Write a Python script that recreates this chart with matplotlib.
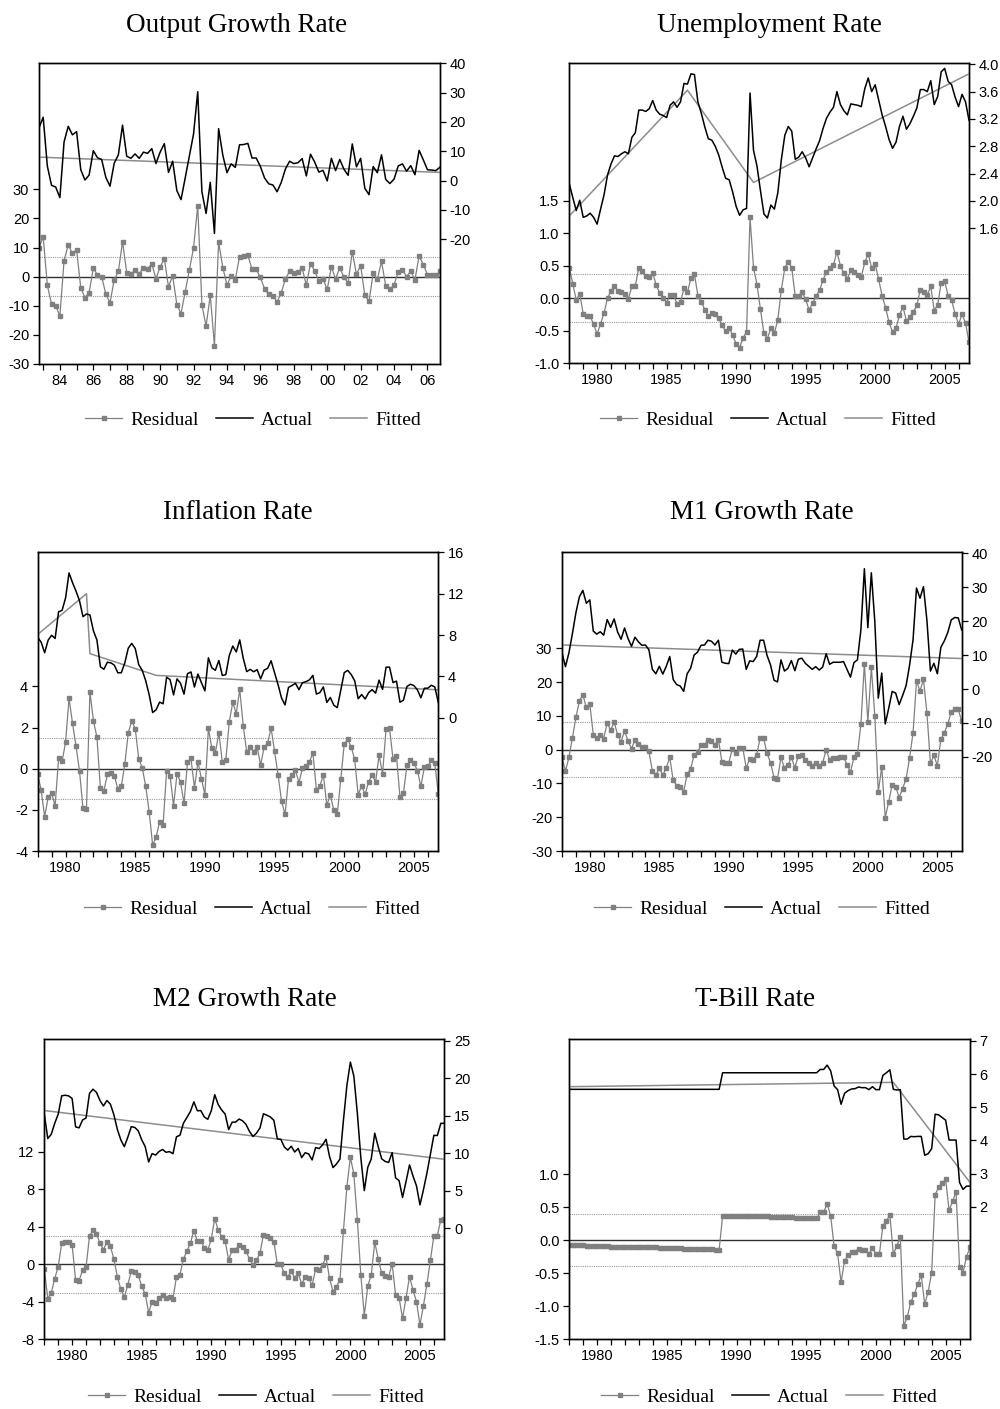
import numpy as np
import matplotlib
matplotlib.use("Agg")
import matplotlib.pyplot as plt
from matplotlib.lines import Line2D
from matplotlib.ticker import FixedLocator, FuncFormatter

plt.rcParams['axes.unicode_minus'] = False

# quarterly dates
q_out = 1982.75 + 0.25 * np.arange(97)
q_all = 1978.0 + 0.25 * np.arange(116)

# ---- Output growth rate (1982Q4 - 2006Q4)
out_resid = [10.0, 13.7, -3.0, -9.4, -10.0, -13.5, 5.5, 10.9, 8.0, 9.2,
             -3.8, -7.2, -5.5, 2.9, 0.6, 0.0, -6.0, -9.0, -1.1, 1.8,
             12.0, 1.4, 0.8, 2.3, 0.9, 3.1, 2.7, 4.4, -0.7, 3.3,
             6.2, -3.5, 0.3, -9.6, -12.7, -5.2, 2.3, 9.9, 24.4, -9.7,
             -17.0, -6.4, -23.7, 12.0, 3.1, -2.9, 0.2, -1.0, 6.8, 7.0,
             7.4, 2.5, 2.5, -0.3, -4.2, -6.1, -6.5, -8.7, -5.5, -0.8,
             1.8, 1.1, 1.5, 2.9, -2.9, 4.5, 1.9, -1.5, -0.8, -4.4,
             3.4, -0.8, 3.1, -0.2, -2.2, 8.6, 0.8, 3.8, -6.4, -8.5,
             1.1, -0.9, 5.2, -3.1, -4.4, -2.9, 1.7, 2.4, 0.0, 1.9,
             -1.1, 7.2, 4.1, 0.7, 0.7, 0.5, 1.8]
out_actual = [18.0, 21.6, 4.9, -1.6, -2.2, -5.8, 13.2, 18.5, 15.6, 16.7,
              3.7, 0.2, 1.9, 10.2, 7.8, 7.2, 1.1, -1.9, 5.9, 8.8,
              18.9, 8.3, 7.6, 9.1, 7.6, 9.7, 9.3, 10.9, 5.8, 9.7,
              12.6, 2.8, 6.6, -3.4, -6.5, 0.9, 8.4, 15.9, 30.3, -3.8,
              -11.2, -0.6, -18.0, 17.7, 8.7, 2.7, 5.7, 4.5, 12.2, 12.3,
              12.7, 7.7, 7.7, 4.8, 0.9, -1.1, -1.5, -3.8, -0.6, 4.0,
              6.6, 5.8, 6.1, 7.5, 1.6, 9.0, 6.3, 2.9, 3.5, -0.1,
              7.6, 3.4, 7.2, 3.9, 1.8, 12.5, 4.7, 7.6, -2.6, -4.8,
              4.8, 2.7, 8.8, 0.4, -1.0, 0.5, 5.0, 5.7, 3.2, 5.1,
              2.0, 10.3, 7.1, 3.7, 3.6, 3.4, 4.6]
out_fit_t = [1982.75, 2006.75]
out_fit_v = [8.0, 2.8]

# ---- Unemployment rate
un_resid = [0.47, 0.22, -0.03, 0.07, -0.24, -0.27, -0.28, -0.40, -0.55, -0.39,
            -0.23, 0.00, 0.11, 0.18, 0.11, 0.10, 0.07, -0.01, 0.18, 0.19,
            0.47, 0.41, 0.34, 0.33, 0.39, 0.20, 0.08, 0.01, -0.07, 0.05,
            0.05, -0.09, -0.06, 0.15, 0.09, 0.31, 0.37, 0.04, -0.06, -0.18,
            -0.28, -0.23, -0.25, -0.31, -0.42, -0.51, -0.46, -0.57, -0.70, -0.76,
            -0.61, -0.52, 1.24, 0.47, 0.21, -0.17, -0.54, -0.62, -0.46, -0.54,
            -0.33, 0.13, 0.46, 0.56, 0.47, 0.03, 0.04, 0.09, -0.02, -0.18,
            -0.08, 0.03, 0.12, 0.28, 0.40, 0.47, 0.51, 0.71, 0.50, 0.38,
            0.30, 0.43, 0.40, 0.36, 0.32, 0.55, 0.68, 0.46, 0.53, 0.29,
            0.04, -0.15, -0.37, -0.52, -0.46, -0.26, -0.13, -0.35, -0.29, -0.21,
            -0.11, 0.13, 0.10, 0.05, 0.18, -0.19, -0.10, 0.24, 0.26, 0.04,
            -0.03, -0.24, -0.40, -0.25, -0.38, -0.68]
un_actual = [2.25, 2.05, 1.86, 2.01, 1.76, 1.78, 1.82, 1.76, 1.66, 1.88,
             2.09, 2.38, 2.54, 2.66, 2.65, 2.69, 2.72, 2.69, 2.93, 3.00,
             3.33, 3.33, 3.31, 3.35, 3.47, 3.33, 3.27, 3.25, 3.22, 3.40,
             3.45, 3.37, 3.45, 3.72, 3.71, 3.86, 3.85, 3.45, 3.28, 3.08,
             2.91, 2.89, 2.80, 2.67, 2.49, 2.33, 2.31, 2.13, 1.92, 1.79,
             1.87, 1.89, 3.58, 2.74, 2.51, 2.15, 1.81, 1.75, 1.94, 1.88,
             2.12, 2.60, 2.96, 3.09, 3.02, 2.61, 2.64, 2.72, 2.63, 2.50,
             2.63, 2.76, 2.88, 3.06, 3.21, 3.30, 3.37, 3.60, 3.41, 3.32,
             3.26, 3.42, 3.41, 3.40, 3.38, 3.64, 3.80, 3.60, 3.70, 3.48,
             3.26, 3.09, 2.90, 2.77, 2.86, 3.09, 3.24, 3.05, 3.13, 3.24,
             3.36, 3.63, 3.63, 3.60, 3.76, 3.41, 3.53, 3.89, 3.94, 3.75,
             3.70, 3.52, 3.38, 3.56, 3.45, 3.18]
un_fit_t = [1978.0, 1986.5, 1991.25, 2006.75]
un_fit_v = [1.78, 3.62, 2.27, 3.86]

# ---- Inflation rate
inf_resid = [-0.28, -1.04, -2.33, -1.39, -1.20, -1.80, 0.50, 0.36, 1.28, 3.42,
             2.20, 1.10, -0.11, -1.93, -1.96, 3.74, 2.32, 1.54, -0.94, -1.07,
             -0.28, -0.23, -0.34, -0.97, -0.86, 0.21, 1.75, 2.32, 1.94, 0.49,
             0.05, -0.84, -2.09, -3.71, -3.32, -2.57, -2.72, -0.13, -0.34, -1.80,
             -0.24, -0.65, -1.68, 0.32, 0.50, -0.94, 0.34, -0.49, -1.26, 1.96,
             1.00, 0.78, 1.75, 0.32, 0.42, 2.28, 3.22, 2.67, 3.85, 2.09,
             0.81, 1.05, 0.83, 1.05, 0.18, 1.05, 1.23, 1.98, 0.84, -0.29,
             -1.57, -2.22, -0.50, -0.31, -0.08, -0.68, 0.02, 0.13, 0.32, 0.78,
             -1.02, -0.86, -0.29, -1.77, -1.28, -2.01, -2.22, -0.52, 1.20, 1.43,
             1.05, 0.45, -1.26, -0.84, -1.25, -0.63, -0.31, -0.63, 0.65, -0.24,
             1.93, 1.96, 0.47, 0.63, -1.39, -1.17, 0.16, 0.40, 0.29, -0.10,
             -0.86, 0.08, 0.11, 0.40, 0.26, -1.23]
inf_actual = [7.78, 7.30, 6.29, 7.51, 7.98, 7.67, 10.25, 10.39, 11.59, 14.01,
              13.07, 12.25, 11.32, 9.78, 10.04, 9.94, 8.41, 7.52, 4.93, 4.69,
              5.37, 5.31, 5.09, 4.35, 4.35, 5.30, 6.73, 7.19, 6.70, 5.14,
              4.59, 3.59, 2.23, 0.50, 0.78, 1.51, 1.35, 3.92, 3.69, 2.21,
              3.76, 3.33, 2.28, 4.26, 4.43, 2.97, 4.23, 3.39, 2.60, 5.80,
              4.82, 4.59, 5.54, 4.09, 4.17, 6.02, 6.94, 6.37, 7.53, 5.76,
              4.46, 4.68, 4.45, 4.65, 3.76, 4.61, 4.78, 5.51, 4.35, 3.20,
              1.91, 1.24, 2.94, 3.12, 3.33, 2.71, 3.39, 3.49, 3.66, 4.10,
              2.29, 2.43, 2.98, 1.48, 1.96, 1.21, 0.98, 2.66, 4.37, 4.58,
              4.18, 3.57, 1.84, 2.24, 1.81, 2.42, 2.72, 2.38, 3.64, 2.74,
              4.89, 4.90, 3.40, 3.54, 1.50, 1.70, 3.02, 3.24, 3.11, 2.70,
              1.93, 2.85, 2.86, 3.14, 2.98, 1.47]
inf_fit_t = [1978.0, 1981.5, 1981.75, 1986.5, 2006.75]
inf_fit_v = [8.06, 12.0, 6.2, 4.1, 2.7]

# ---- M1 growth rate
m1_resid = [-2.3, -6.4, -2.2, 3.5, 9.6, 14.4, 16.3, 12.5, 13.6, 4.4,
            3.5, 4.3, 3.3, 8.0, 5.7, 8.2, 4.4, 2.3, 5.6, 2.6,
            0.3, 3.0, 1.7, 0.7, 0.8, -0.5, -6.3, -7.6, -5.3, -7.6,
            -5.3, -2.3, -9.1, -10.6, -10.9, -12.5, -7.3, -5.6, -1.7, -0.7,
            1.3, 1.4, 2.9, 2.6, 1.5, 3.0, -3.5, -3.8, -3.8, 0.2,
            -1.0, 0.5, 0.6, -5.4, -2.8, -3.0, -1.5, 3.4, 3.4, -1.1,
            -3.8, -8.3, -8.7, -2.2, -5.5, -4.6, -2.3, -5.3, -1.8, -1.5,
            -3.0, -3.8, -4.7, -3.9, -4.8, -3.9, 0.0, -3.0, -2.4, -2.4,
            -2.3, -2.1, -4.4, -6.6, -2.3, -1.4, 7.5, 25.5, 8.2, 24.4,
            10.0, -12.5, -5.1, -20.1, -15.4, -10.4, -10.9, -14.2, -11.5, -8.6,
            -2.5, 5.0, 20.3, 17.4, 20.8, 10.8, -4.0, -1.7, -4.7, 3.1,
            5.0, 7.6, 11.3, 12.0, 12.0, 8.4]
m1_actual = [10.7, 6.6, 10.7, 16.4, 22.5, 27.2, 29.1, 25.3, 26.3, 17.1,
             16.2, 16.9, 15.9, 20.5, 18.2, 20.7, 16.8, 14.7, 18.0, 14.9,
             12.6, 15.3, 13.9, 12.9, 13.0, 11.6, 5.8, 4.5, 6.7, 4.4,
             6.7, 9.6, 2.8, 1.3, 0.9, -0.7, 4.5, 6.1, 10.0, 10.9,
             12.9, 13.0, 14.4, 14.1, 13.0, 14.4, 7.9, 7.6, 7.5, 11.5,
             10.3, 11.7, 11.8, 5.8, 8.3, 8.1, 9.6, 14.4, 14.4, 9.9,
             7.1, 2.6, 2.1, 8.6, 5.3, 6.1, 8.4, 5.4, 8.8, 9.1,
             7.6, 6.7, 5.8, 6.6, 5.6, 6.5, 10.4, 7.3, 7.9, 7.9,
             7.9, 8.1, 5.8, 3.5, 7.8, 8.6, 17.5, 35.5, 18.1, 34.3,
             19.9, -2.7, 4.7, -10.3, -5.7, -0.7, -1.2, -4.6, -1.9, 1.0,
             7.0, 14.5, 29.8, 26.8, 30.2, 20.2, 5.3, 7.6, 4.5, 12.3,
             14.2, 16.7, 20.4, 21.1, 21.0, 17.4]
m1_fit_t = [1978.0, 2006.75]
m1_fit_v = [13.0, 9.0]

# ---- M2 growth rate
m2_resid = [-0.46, -3.67, -3.06, -1.53, -0.25, 2.24, 2.38, 2.35, 2.06, -1.67,
            -1.74, -0.64, -0.32, 3.02, 3.63, 3.27, 2.24, 1.57, 2.35, 1.92,
            0.57, -1.32, -2.67, -3.52, -2.21, -0.75, -0.78, -1.17, -2.31, -3.17,
            -5.16, -3.99, -4.13, -3.59, -3.27, -3.59, -3.45, -3.67, -1.35, -1.10,
            0.57, 1.39, 2.24, 3.59, 2.46, 2.53, 1.74, 1.49, 2.67, 4.88,
            3.63, 2.95, 2.46, 0.46, 1.49, 1.57, 2.03, 1.85, 1.42, 0.53,
            -0.07, 0.43, 1.17, 3.13, 2.99, 2.81, 2.42, 0.00, 0.00, -0.96,
            -1.32, -0.75, -1.46, -0.93, -2.10, -1.39, -1.49, -2.24, -0.53, -0.60,
            -0.07, 0.75, -1.49, -2.92, -2.38, -1.67, 3.56, 8.29, 11.42, 9.61,
            4.73, -1.14, -5.48, -2.31, -1.14, 2.35, 0.60, -0.96, -1.25, -1.32,
            0.04, -3.27, -3.59, -5.77, -3.59, -1.32, -2.74, -3.99, -6.48, -4.41,
            -2.14, 0.43, 3.02, 3.06, 4.73, 4.80]
m2_actual = [15.24, 11.97, 12.53, 14.00, 15.22, 17.66, 17.74, 17.65, 17.31, 13.52,
             13.39, 14.44, 14.70, 17.99, 18.54, 18.12, 17.04, 16.31, 17.03, 16.55,
             15.14, 13.19, 11.79, 10.88, 12.13, 13.54, 13.45, 13.00, 11.81, 10.89,
             8.84, 9.96, 9.76, 10.24, 10.51, 10.13, 10.22, 9.94, 12.20, 12.40,
             14.01, 14.77, 15.57, 16.86, 15.67, 15.69, 14.84, 14.53, 15.66, 17.81,
             16.50, 15.77, 15.22, 13.16, 14.14, 14.16, 14.56, 14.33, 13.84, 12.90,
             12.24, 12.68, 13.37, 15.27, 15.07, 14.84, 14.39, 11.91, 11.86, 10.84,
             10.42, 10.94, 10.17, 10.64, 9.42, 10.07, 9.91, 9.11, 10.76, 10.63,
             11.11, 11.87, 9.58, 8.09, 8.57, 9.23, 14.40, 19.07, 22.15, 20.28,
             15.34, 9.42, 5.02, 8.13, 9.25, 12.68, 10.87, 9.26, 8.91, 8.78,
             10.09, 6.72, 6.35, 4.11, 6.23, 8.45, 6.97, 5.66, 3.12, 5.13,
             7.34, 9.86, 12.39, 12.37, 13.99, 14.00]
m2_fit_t = [1978.0, 2006.75]
m2_fit_v = [15.7, 9.2]

# ---- T-bill rate
tb_resid = [-0.08, -0.08, -0.08, -0.08, -0.08, -0.09, -0.09, -0.09, -0.09, -0.09, -0.09, -0.09,
            -0.10, -0.10, -0.10, -0.10, -0.10, -0.10, -0.10, -0.11, -0.11, -0.11, -0.11, -0.11,
            -0.11, -0.11, -0.12, -0.12, -0.12, -0.12, -0.12, -0.12, -0.12, -0.13, -0.13, -0.13,
            -0.13, -0.13, -0.13, -0.14, -0.14, -0.14, -0.15, -0.15,
            0.37, 0.37, 0.37, 0.37, 0.37, 0.37, 0.37, 0.36, 0.36, 0.36, 0.36, 0.36,
            0.36, 0.36, 0.35, 0.35, 0.35, 0.35, 0.35, 0.35, 0.35, 0.34, 0.34, 0.34,
            0.34, 0.33, 0.33, 0.33,
            0.42, 0.42, 0.55, 0.37, -0.09, -0.20, -0.64, -0.31, -0.23, -0.18,
            -0.18, -0.13, -0.15, -0.15, -0.21, -0.12, -0.21, -0.21, 0.22, 0.29,
            0.38, -0.21, -0.09, 0.05, -1.30, -1.16, -0.94, -0.82, -0.67, -0.53,
            -0.97, -0.78, -0.49, 0.69, 0.80, 0.86, 0.92, 0.45, 0.59, 0.73,
            -0.41, -0.49, -0.25, -0.11]
tb_actual = [5.54, 5.54, 5.54, 5.54, 5.54, 5.54, 5.54, 5.54, 5.54, 5.54, 5.54, 5.54,
             5.54, 5.54, 5.54, 5.54, 5.54, 5.54, 5.54, 5.54, 5.54, 5.54, 5.54, 5.54,
             5.54, 5.54, 5.54, 5.54, 5.54, 5.54, 5.54, 5.54, 5.54, 5.54, 5.54, 5.54,
             5.54, 5.54, 5.54, 5.54, 5.54, 5.54, 5.54, 5.54,
             6.04, 6.04, 6.04, 6.04, 6.04, 6.04, 6.04, 6.04, 6.04, 6.04, 6.04, 6.04,
             6.04, 6.04, 6.04, 6.04, 6.04, 6.04, 6.04, 6.04, 6.04, 6.04, 6.04, 6.04,
             6.04, 6.04, 6.04, 6.04,
             6.14, 6.14, 6.27, 6.10, 5.64, 5.53, 5.09, 5.42, 5.50, 5.55,
             5.56, 5.61, 5.59, 5.59, 5.53, 5.62, 5.53, 5.53, 5.96, 6.04,
             6.13, 5.54, 5.52, 5.53, 4.04, 4.04, 4.12, 4.11, 4.12, 4.12,
             3.55, 3.60, 3.75, 4.79, 4.77, 4.69, 4.61, 4.01, 4.01, 4.01,
             2.73, 2.52, 2.62, 2.62]
tb_fit_t = [1978.0, 2001.25, 2006.75]
tb_fit_v = [5.62, 5.75, 2.73]

# standard error bands of the residuals
se = {'out': 6.75, 'un': 0.37, 'inf': 1.47, 'm1': 8.1, 'm2': 3.04, 'tb': 0.39}

GREY = '#808080'
FIT = '#8c8c8c'
SANS = 'Liberation Sans'
SERIF = 'Liberation Serif'


def panel(rect, t, resid, actual, fit_t, fit_v, band, lylim, rylim,
          lticks, rticks, fmt, rfmt, two_digit=False):
    ax = fig.add_axes(rect)
    ax2 = ax.twinx()
    ax.axhline(0, color='#303030', lw=1.0, zorder=1)
    ax.axhline(band, color='#9a9a9a', lw=0.8, ls=(0, (1, 1)), zorder=1)
    ax.axhline(-band, color='#9a9a9a', lw=0.8, ls=(0, (1, 1)), zorder=1)
    ax.plot(t, resid, color=GREY, lw=0.9, marker='s', ms=2.2, mec=GREY, mfc=GREY, zorder=2)
    ax2.plot(fit_t, fit_v, color=FIT, lw=1.1)
    ax2.plot(t, actual, color='k', lw=1.1)
    ax.set_xlim(t[0], t[-1])
    ax.set_ylim(*lylim)
    ax2.set_ylim(*rylim)
    ax.yaxis.set_major_locator(FixedLocator(lticks))
    ax2.yaxis.set_major_locator(FixedLocator(rticks))
    ax.yaxis.set_major_formatter(FuncFormatter(lambda v, p: fmt % v))
    ax2.yaxis.set_major_formatter(FuncFormatter(lambda v, p: rfmt % v))
    if two_digit:
        ax.xaxis.set_major_locator(FixedLocator(np.arange(1984, 2007, 2)))
        ax.xaxis.set_minor_locator(FixedLocator(np.arange(1983, 2007, 2)))
        ax.xaxis.set_major_formatter(FuncFormatter(lambda v, p: '%02d' % (int(round(v)) % 100)))
    else:
        ax.xaxis.set_major_locator(FixedLocator(np.arange(1980, 2007, 5)))
        ax.xaxis.set_minor_locator(FixedLocator(np.arange(1978, 2007, 1)))
        ax.xaxis.set_major_formatter(FuncFormatter(lambda v, p: '%d' % round(v)))
    for a in (ax, ax2):
        a.tick_params(which='both', direction='out', length=4, width=0.9,
                      labelsize=10.5, pad=3)
        for lab in a.get_xticklabels() + a.get_yticklabels():
            lab.set_family(SANS)
        for s in a.spines.values():
            s.set_linewidth(1.0)
            s.set_color('k')
    return ax


fig = plt.figure(figsize=(10, 14.09), dpi=100)

panel([0.039, 0.7417, 0.401, 0.2134], q_out, out_resid, out_actual, out_fit_t, out_fit_v,
      se['out'], (-30, 73.3), (-62.5, 40), range(-30, 31, 10), range(-20, 41, 10),
      '%d', '%d', two_digit=True)
panel([0.5693, 0.7422, 0.3997, 0.2129], q_all, un_resid, un_actual, un_fit_t, un_fit_v,
      se['un'], (-1.0, 3.61), (-0.376, 4.015), [-1.0, -0.5, 0.0, 0.5, 1.0, 1.5],
      [1.6, 2.0, 2.4, 2.8, 3.2, 3.6, 4.0], '%.1f', '%.1f')
panel([0.0377, 0.3960, 0.4006, 0.2124], q_all, inf_resid, inf_actual, inf_fit_t, inf_fit_v,
      se['inf'], (-4.0, 10.54), (-12.9, 16.06), [-4, -2, 0, 2, 4], [0, 4, 8, 12, 16],
      '%d', '%d')
panel([0.5620, 0.3960, 0.3997, 0.2124], q_all, m1_resid, m1_actual, m1_fit_t, m1_fit_v,
      se['m1'], (-30, 58.6), (-47.8, 40.5), range(-30, 31, 10), range(-20, 41, 10),
      '%d', '%d')
panel([0.0443, 0.0495, 0.4000, 0.2129], q_all, m2_resid, m2_actual, m2_fit_t, m2_fit_v,
      se['m2'], (-8, 24.0), (-14.8, 25.2), [-8, -4, 0, 4, 8, 12], [0, 5, 10, 15, 20, 25],
      '%d', '%d')
panel([0.5693, 0.0495, 0.4007, 0.2129], q_all, tb_resid, tb_actual, tb_fit_t, tb_fit_v,
      se['tb'], (-1.5, 3.04), (-2.0, 7.05), [-1.5, -1.0, -0.5, 0.0, 0.5, 1.0],
      [2, 3, 4, 5, 6, 7], '%.1f', '%d')

# titles and legends
titles = ['Output Growth Rate', 'Unemployment Rate', 'Inflation Rate',
          'M1 Growth Rate', 'M2 Growth Rate', 'T-Bill Rate']
title_xy = [(237, 26), (769, 26), (238, 512), (762, 512), (245, 999), (755, 999)]
legend_xy = [(253, 420), (768, 420), (252, 909), (762, 909), (256, 1397), (769, 1397)]

handles = [Line2D([], [], color=GREY, lw=0.9, marker='s', ms=2.2),
           Line2D([], [], color='k', lw=1.1),
           Line2D([], [], color=FIT, lw=1.1)]
names = ['Residual', 'Actual', 'Fitted']

for ttl, (tx, ty), (lx, ly) in zip(titles, title_xy, legend_xy):
    fig.text(tx / 1000, 1 - ty / 1409, ttl, ha='center', va='center',
             family=SERIF, fontsize=19.5)
    fig.legend(handles, names, loc='center', bbox_to_anchor=(lx / 1000, 1 - ly / 1409),
               ncol=3, frameon=False, prop={'family': SERIF, 'size': 14},
               handlelength=1.9, handletextpad=0.4, columnspacing=0.9)

fig.savefig('out.png', dpi=100)
